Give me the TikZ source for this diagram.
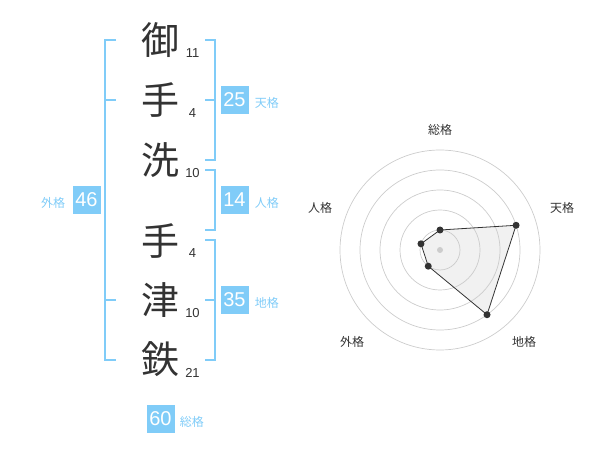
\documentclass[tikz,border=0pt]{standalone}
\usepackage{fontspec}
\setmainfont{Noto Sans CJK JP}
\newfontfamily\digitfont{Liberation Sans}
\usetikzlibrary{positioning}

\definecolor{kakublue}{HTML}{80CCF8}
\definecolor{kanjigray}{HTML}{333333}
\definecolor{ringgray}{HTML}{CCCCCC}

\tikzset{
  kanji/.style={font=\fontsize{38}{38}\selectfont, text=kanjigray, inner sep=0pt},
  kakusu/.style={font=\digitfont\fontsize{13}{13}\selectfont, text=kanjigray, inner sep=0pt},
  kakubox/.style={fill=kakublue, text=white, minimum size=28pt, inner sep=0pt,
    font=\digitfont\fontsize{20}{20}\selectfont},
  kakuname/.style={text=kakublue, font=\fontsize{12}{12}\selectfont, inner sep=0pt},
  kakuline/.style={draw=kakublue, line width=2pt},
  ring/.style={draw=ringgray, line width=0.7pt},
  axisname/.style={text=kanjigray, font=\fontsize{12}{12}\selectfont, inner sep=0pt},
  radarpt/.style={circle, fill=kanjigray, inner sep=0pt, minimum size=7pt},
}

\begin{document}
\begin{tikzpicture}[x=1pt, y=-1pt]
  \useasboundingbox (0,0) rectangle (600,470);

  % Nombre
  \node[kanji] (ka1) at (160,40) {御};
  \node[kanji] (ka2) at (160,100) {手};
  \node[kanji] (ka3) at (160,160) {洗};
  \node[kanji] (ka4) at (160,241) {手};
  \node[kanji] (ka5) at (160,300) {津};
  \node[kanji] (ka6) at (160,359) {鉄};

  % Trazos
  \node[kakusu] (ks1) at (192.5,53) {11};
  \node[kakusu] (ks2) at (192.5,113) {4};
  \node[kakusu] (ks3) at (192.5,173) {10};
  \node[kakusu] (ks4) at (192.5,253) {4};
  \node[kakusu] (ks5) at (192.5,313) {10};
  \node[kakusu] (ks6) at (192.5,373) {21};

  % Corchetes
  \draw[kakuline] (116,40) -- (105,40) -- (105,360) -- (116,360);
  \draw[kakuline] (105,100) -- (116,100);
  \draw[kakuline] (105,300) -- (116,300);
  \draw[kakuline] (205,40) -- (215,40) -- (215,160) -- (205,160);
  \draw[kakuline] (205,100) -- (215,100);
  \draw[kakuline] (205,170) -- (215,170) -- (215,230) -- (205,230);
  \draw[kakuline] (205,240) -- (215,240) -- (215,360) -- (205,360);
  \draw[kakuline] (205,300) -- (215,300);

  % Cajas
  \node[kakubox] (ten) at (234.5,100) {25};
  \node[kakubox] (jin) at (234.5,200) {14};
  \node[kakubox] (chi) at (234.5,300) {35};
  \node[kakubox] (gai) at (86.5,200) {46};
  \node[kakubox] (sou) at (160.5,419) {60};
  \node[kakuname, right=6pt of ten, yshift=-3pt] {天格};
  \node[kakuname, right=6pt of jin, yshift=-3pt] {人格};
  \node[kakuname, right=6pt of chi, yshift=-3pt] {地格};
  \node[kakuname, left=7pt of gai, yshift=-3pt] {外格};
  \node[kakuname, right=5pt of sou, yshift=-3pt] {総格};

  % Radar
  \begin{scope}[shift={(440,250)}, y=1pt]
    \coordinate (c) at (0,0);
    \coordinate (rsou) at (90:20);
    \coordinate (rten) at (18:80);
    \coordinate (rchi) at (-54:80);
    \coordinate (rgai) at (-126:20);
    \coordinate (rjin) at (162:20);
    \fill[black!7, fill opacity=0.8] (rsou) -- (rten) -- (rchi) -- (rgai) -- (rjin) -- cycle;
    \foreach \r in {20,40,60,80,100}
      \draw[ring] (c) circle (\r pt);
    \fill[ringgray] (c) circle (3pt);
    \draw[kanjigray, line width=0.8pt] (rsou) -- (rten) -- (rchi) -- (rgai) -- (rjin) -- cycle;
    \foreach \p in {rsou,rten,rchi,rgai,rjin}
      \node[radarpt] at (\p) {};
  \end{scope}
  \node[axisname] (asou) at (440,130) {総格};
  \node[axisname] (aten) at (562,208) {天格};
  \node[axisname] (achi) at (524,342) {地格};
  \node[axisname] (agai) at (352,342) {外格};
  \node[axisname] (ajin) at (320,208) {人格};
\end{tikzpicture}
\end{document}
